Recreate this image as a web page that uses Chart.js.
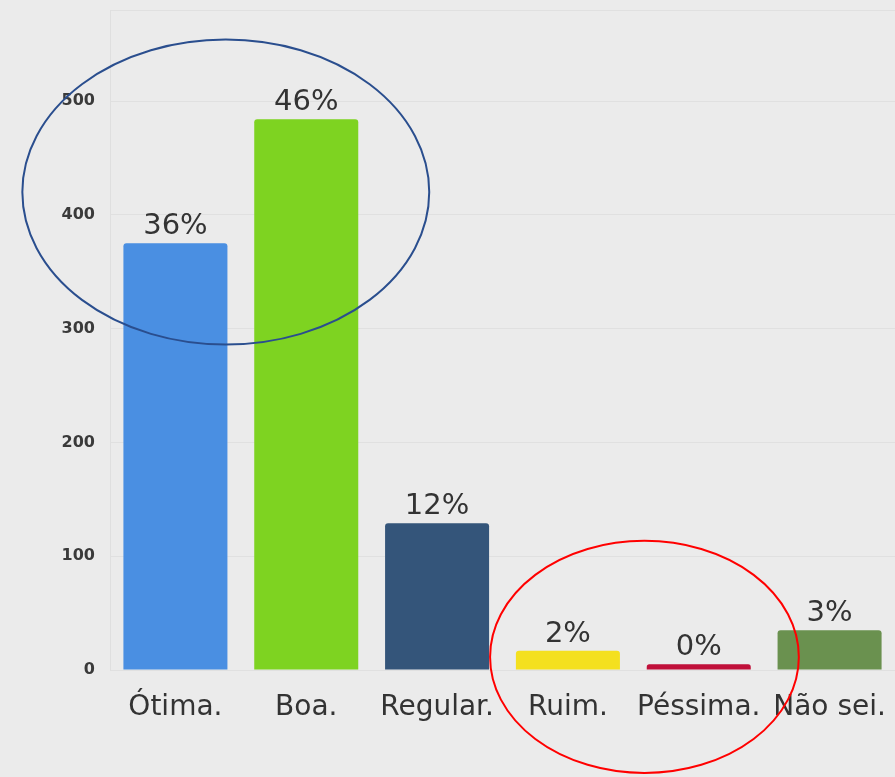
<!DOCTYPE html>
<html lang="pt">
<head>
    <meta charset="UTF-8">
    <title>Avaliação</title>
    <script src="https://cdn.jsdelivr.net/npm/chart.js"></script>
    <style>
        html, body {
            margin: 0;
            padding: 0;
            background-color: #ebebeb;
        }
        .chart-container {
            width: 895px;
            height: 777px;
        }
    </style>
</head>
<body>
    <div class="chart-container">
        <canvas id="barChart"></canvas>
    </div>

    <script>
        const categories = ['Ótima.', 'Boa.', 'Regular.', 'Ruim.', 'Péssima.', 'Não sei.'];
        const counts = [375, 484, 129, 17, 5, 35];
        const percentLabels = ['36%', '46%', '12%', '2%', '0%', '3%'];
        const barColors = ['#4a8fe2', '#7ed321', '#34557a', '#f4e01f', '#c0103a', '#6a914f'];
        const yTicks = [0, 100, 200, 300, 400, 500];

        const FONT = "'DejaVu Sans', Verdana, sans-serif";

        // percentage text above each bar
        const percentPlugin = {
            id: 'percentLabels',
            afterDatasetsDraw(chart) {
                const ctx = chart.ctx;
                const meta = chart.getDatasetMeta(0);
                ctx.save();
                ctx.font = '29px ' + FONT;
                ctx.fillStyle = '#333333';
                ctx.textAlign = 'center';
                ctx.textBaseline = 'bottom';
                meta.data.forEach((bar, i) => {
                    ctx.fillText(percentLabels[i], bar.x, bar.y - 2);
                });
                ctx.restore();
            }
        };

        // hand-drawn style ellipses highlighting groups of bars
        const ellipsePlugin = {
            id: 'highlightEllipses',
            afterDraw(chart) {
                const x = chart.scales.x;
                const y = chart.scales.y;
                const ctx = chart.ctx;
                const step = x.getPixelForValue(1) - x.getPixelForValue(0);
                const unit = y.getPixelForValue(0) - y.getPixelForValue(100);
                const marks = [
                    { cx: 0.385, cy: 420, rx: 1.555, ry: 134, color: '#2a4e8e' },
                    { cx: 3.585, cy: 11.5, rx: 1.18, ry: 102, color: '#ff0000' }
                ];
                ctx.save();
                ctx.lineWidth = 2;
                marks.forEach(m => {
                    ctx.beginPath();
                    ctx.strokeStyle = m.color;
                    ctx.ellipse(
                        x.getPixelForValue(0) + m.cx * step,
                        y.getPixelForValue(m.cy),
                        m.rx * step,
                        m.ry * unit / 100,
                        0, 0, Math.PI * 2
                    );
                    ctx.stroke();
                });
                ctx.restore();
            }
        };

        const ctx = document.getElementById('barChart').getContext('2d');
        new Chart(ctx, {
            type: 'bar',
            data: {
                labels: categories,
                datasets: [{
                    data: counts,
                    backgroundColor: barColors,
                    borderWidth: 0,
                    borderRadius: { topLeft: 3, topRight: 3 },
                    borderSkipped: 'bottom',
                    categoryPercentage: 1,
                    barPercentage: 0.795
                }]
            },
            options: {
                responsive: true,
                maintainAspectRatio: false,
                animation: false,
                layout: {
                    padding: { top: 10, right: 0, bottom: 0, left: 0 }
                },
                scales: {
                    x: {
                        grid: { display: false },
                        border: { display: false },
                        ticks: {
                            color: '#333333',
                            padding: 13,
                            maxRotation: 0,
                            autoSkip: false,
                            font: { family: FONT, size: 28 }
                        },
                        afterFit(scale) {
                            scale.height = 107;
                            scale.paddingLeft = 0;
                            scale.paddingRight = 0;
                        }
                    },
                    y: {
                        min: 0,
                        max: 580,
                        afterBuildTicks(scale) {
                            scale.ticks = yTicks.map(v => ({ value: v })).concat([{ value: 580 }]);
                        },
                        grid: {
                            color: 'rgba(0, 0, 0, 0.045)',
                            drawTicks: false
                        },
                        border: { display: true, color: 'rgba(0, 0, 0, 0.05)' },
                        ticks: {
                            color: '#3a3a3a',
                            padding: 15,
                            font: { family: FONT, size: 16, weight: 'bold' },
                            callback: v => (yTicks.includes(v) ? v : '')
                        },
                        afterFit(scale) {
                            scale.width = 110;
                            scale.paddingTop = 0;
                            scale.paddingBottom = 0;
                        }
                    }
                },
                plugins: {
                    legend: { display: false },
                    tooltip: { enabled: false }
                }
            },
            plugins: [percentPlugin, ellipsePlugin]
        });
    </script>
</body>
</html>
